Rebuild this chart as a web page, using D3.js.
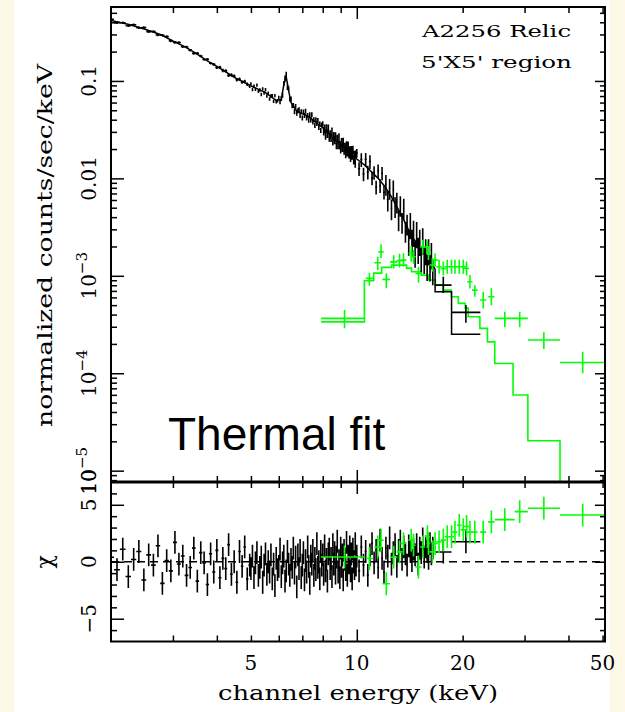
<!DOCTYPE html>
<html>
<head>
<meta charset="utf-8">
<script src="https://cdn.jsdelivr.net/npm/d3@7"></script>
<style>
  html, body { margin: 0; padding: 0; background: #fdf9e6; }
  svg { display: block; }
</style>
</head>
<body>
<svg id="chart" width="625" height="712"></svg>
<script>
// ── data ────────────────────────────────────────────────────────────────────

// axis limits
const xDomain    = [2, 50.8];          // keV
const yTopDomain = [7.65e-6, 0.574];   // counts/sec/keV
const chiDomain  = [-7, 7];

// black spectrum: channel centres (keV), upper-panel values, residuals
const blackE = [
  2.00, 2.08, 2.16, 2.24, 2.32, 2.40, 2.48, 2.56, 2.64, 2.72, 2.80, 2.88, 2.96, 3.04, 3.12, 3.20,
  3.28, 3.36, 3.44, 3.52, 3.60, 3.68, 3.76, 3.84, 3.92, 4.00, 4.08, 4.16, 4.24, 4.32, 4.40, 4.48,
  4.56, 4.64, 4.72, 4.80, 4.88, 4.96,
  5.00, 5.05, 5.10, 5.15, 5.20, 5.25, 5.30, 5.35, 5.40, 5.45, 5.50, 5.55, 5.60, 5.65, 5.70, 5.75,
  5.80, 5.85, 5.90, 5.95, 6.00, 6.05, 6.10, 6.15, 6.20, 6.25, 6.30, 6.35, 6.40, 6.45, 6.50, 6.55,
  6.60, 6.65, 6.70, 6.75, 6.80, 6.85, 6.90, 6.95, 7.00, 7.05, 7.10, 7.15, 7.20, 7.25, 7.30, 7.35,
  7.40, 7.45, 7.50, 7.55, 7.60, 7.65, 7.70, 7.75, 7.80, 7.85, 7.90, 7.95, 8.00, 8.05, 8.10, 8.15,
  8.20, 8.25, 8.30, 8.35, 8.40, 8.45, 8.50, 8.55, 8.60, 8.65, 8.70, 8.75, 8.80, 8.85, 8.90, 8.95,
  9.00, 9.05, 9.10, 9.15, 9.20, 9.25, 9.30, 9.35, 9.40, 9.45, 9.50, 9.55, 9.60, 9.65, 9.70, 9.75,
  9.80, 9.85, 9.90, 9.95,
  10.00, 10.15, 10.30, 10.45, 10.60, 10.75, 10.90, 11.05, 11.20, 11.35, 11.50, 11.65, 11.80, 11.95,
  12.10, 12.25, 12.40, 12.55, 12.70, 12.85, 13.00, 13.15, 13.30, 13.45, 13.60, 13.75, 13.90, 14.05,
  14.20, 14.35, 14.50, 14.65, 14.80, 14.95, 15.10, 15.25, 15.40, 15.55, 15.70, 15.85, 16.00, 16.15,
  16.30, 16.45
];
const blackY = [
  0.429, 0.397, 0.396, 0.369, 0.378, 0.352, 0.353, 0.321, 0.322, 0.297, 0.294, 0.285, 0.258, 0.249, 0.248, 0.224,
  0.223, 0.207, 0.192, 0.192, 0.180, 0.166, 0.167, 0.152, 0.148, 0.137, 0.138, 0.128, 0.127, 0.114, 0.115, 0.112,
  0.103, 0.104, 0.0973, 0.0989, 0.0925, 0.0883,
  0.0933, 0.0818, 0.0883, 0.0820, 0.0906, 0.0785, 0.0809, 0.0726, 0.0830, 0.0753,
  0.0813, 0.0700, 0.0750, 0.0653, 0.0700, 0.0708, 0.0617, 0.0708, 0.0610, 0.0627,
  0.0676, 0.0612, 0.0661, 0.0716, 0.0944, 0.107, 0.117, 0.0861, 0.0832, 0.0653,
  0.0653, 0.0558, 0.0561, 0.0485, 0.0547, 0.0468, 0.0495, 0.0507, 0.0442, 0.0484,
  0.0417, 0.0479, 0.0442, 0.0490, 0.0417, 0.0442, 0.0395, 0.0451, 0.0399, 0.0450,
  0.0380, 0.0400, 0.0350, 0.0399, 0.0366, 0.0394, 0.0333, 0.0362, 0.0310, 0.0353,
  0.0363, 0.0306, 0.0325, 0.0277, 0.0327, 0.0288, 0.0324, 0.0264, 0.0284, 0.0262,
  0.0302, 0.0241, 0.0272, 0.0249, 0.0271, 0.0221, 0.0255, 0.0221, 0.0264, 0.0220,
  0.0200, 0.0236, 0.0207, 0.0237, 0.0194, 0.0211, 0.0179, 0.0219, 0.0186, 0.0217,
  0.0178, 0.0194, 0.0164, 0.0195, 0.0173, 0.0197, 0.0154, 0.0175, 0.0143, 0.0177,
  0.0182, 0.0126, 0.0156, 0.0111, 0.0157, 0.0116, 0.0149, 0.0101, 0.0115, 0.00815,
  0.0120, 0.00843, 0.0113, 0.00721, 0.00871, 0.00603, 0.00794, 0.00489, 0.00769, 0.00516,
  0.00575, 0.00378, 0.00530, 0.00356, 0.00497, 0.00288, 0.00342, 0.00229, 0.00339, 0.00229,
  0.00282, 0.00173, 0.00274, 0.00189, 0.00228, 0.00155, 0.00236, 0.00149, 0.00183, 0.00126,
  0.00182, 0.00125, 0.00167, 0.00114
];
const blackChi = [
  0.4, -0.7, 1.1, -1.3, 0.2, 0.9, -1.6, 0.6, -0.3, 1.4, -1.9, 0.1, -0.8, 1.7, -0.2, 0.5,
  -1.2, -0.5, 1.2, -1.7, 0.8, -0.1, -2.0, 0.7, -0.9, 1.0, -1.4, 0.3, -0.6, 1.5, -1.1, 0.0,
  -1.8, 0.9, -0.4, 1.3, -1.5, -0.3,
  -0.6, 0.5, -1.4, -0.1, 0.8, -1.2, -0.5, 0.4, -1.8, -0.3,
  0.7, -1.1, 0.0, -0.9, 0.6, -1.5, -0.2, -2.1, 0.3, -0.7,
  -0.4, 1.1, -1.3, -0.1, 0.5, -1.7, -0.8, 0.9, -0.2, -1.2,
  0.2, -0.5, 1.2, -1.0, 0.4, -2.2, 0.6, -0.6, 1.0, -1.4,
  -0.3, 0.8, -1.6, 0.1, -0.9, 1.3, -0.4, -1.9, 0.5, -0.2,
  1.0, -1.2, 0.3, -0.7, 1.6, -0.5, 0.0, -1.5, 0.9, -0.3,
  0.6, -1.1, 1.4, -0.8, 0.2, -1.7, 0.7, 1.1, -0.6, 0.3,
  -1.3, 1.5, -0.2, 0.8, -1.0, 0.4, 1.8, -0.9, 0.1, -1.4,
  1.2, -0.4, 0.6, -1.6, 1.0, 0.2, -0.7, 1.7, -1.2, 0.5,
  -0.1, 1.3, -0.8, 0.7, -1.5, 1.1, 0.0, -0.6, 1.6, -0.3,
  0.5, -0.8, 1.3, -0.3, 0.9, -1.2, 0.6, 1.6, -0.1, 1.0,
  -0.5, 1.9, 0.3, -0.9, 1.2, 0.5, 2.1, -0.2, 0.8, 1.5,
  -0.4, 1.0, 1.8, 0.2, 1.3, 0.7, -0.3, 1.4, 0.9, 0.1,
  1.1, 0.6, 1.5, -0.2, 1.2, 0.8, 2.0, 0.4, 1.3, 0.9,
  0.3, 1.6, 0.7, 1.2
];
// fractional error of the black points, by energy band (upper edge of band)
const errBandTop  = [4, 6, 8, 10, 12, 14, 17];
const errBandFrac = [0.03, 0.04, 0.06, 0.1, 0.16, 0.24, 0.3];

// two wide black bins at the high-energy end
const blackWideLo  = [16.7, 18.6];
const blackWideHi  = [18.6, 22.46];
const blackWideE   = [17.62, 20.43];
const blackWideY   = [8.03e-4, 4.21e-4];
const blackWideYLo = [6.65e-4, 3.30e-4];
const blackWideYHi = [9.77e-4, 5.01e-4];
const blackWideChi = [0.85, 1.75];

// black model line (vertices)
const blackModelE = [
  2.0, 2.25, 2.5, 2.75, 3.0, 3.25, 3.5, 3.75, 4.0, 4.25, 4.5, 4.75, 5.0, 5.5, 5.9,
  6.1, 6.2, 6.3, 6.4, 6.5, 6.75, 7.25, 7.5, 8.0, 8.5, 9.0, 9.5, 10.0, 10.5, 11.0,
  11.5, 12.0, 12.5, 13.0, 13.5, 14.0, 14.5, 15.0, 15.5, 16.0, 16.5, 16.7,
  16.7, 18.6, 18.6, 22.46
];
const blackModelY = [
  0.417, 0.380, 0.339, 0.302, 0.257, 0.224, 0.191, 0.162, 0.141, 0.123, 0.108, 0.0977, 0.0891, 0.0759, 0.0631,
  0.0646, 0.0912, 0.110, 0.0794, 0.0603, 0.0490, 0.0437, 0.0398, 0.0331, 0.0269, 0.0224, 0.0191, 0.0158, 0.0138, 0.0117,
  0.0100, 0.00832, 0.00661, 0.00513, 0.00398, 0.00302, 0.00240, 0.00204, 0.00178, 0.00151, 0.00126, 0.00117,
  6.86e-4, 6.86e-4, 2.52e-4, 2.52e-4
];

// green spectrum
const greenE   = [9.23, 10.86, 11.47, 11.72, 12.13, 12.73, 13.23, 13.58, 14.28, 14.5, 14.98, 15.4, 15.88, 15.99, 16.4, 16.7,
                  17.14, 17.62, 18.08, 18.6, 19.02, 19.56, 20.08, 20.52, 20.98, 21.66, 22.88, 24.14, 26.36, 29.06, 34.04, 43.9];
const greenLo  = [7.91, 10.61, 11.22, 11.52, 11.83, 12.43, 12.98, 13.33, 14.03, 14.3, 14.68, 15.15, 15.63, 15.79, 16.1, 16.4,
                  16.84, 17.32, 17.78, 18.3, 18.72, 19.26, 19.73, 20.17, 20.63, 21.26, 22.43, 23.64, 24.68, 28.12, 30.66, 37.84];
const greenHi  = [10.51, 11.11, 11.72, 11.92, 12.43, 13.03, 13.48, 13.83, 14.53, 14.7, 15.28, 15.65, 16.13, 16.19, 16.7, 17.0,
                  17.44, 17.92, 18.38, 18.9, 19.32, 19.86, 20.43, 20.87, 21.33, 22.06, 23.33, 24.64, 28.12, 30.66, 37.84, 50.8];
const greenY   = [3.66e-4, 9.4e-4, 1.36e-3, 1.76e-3, 9.2e-4, 1.39e-3, 1.43e-3, 1.45e-3, 1.70e-3, 1.57e-3, 1.06e-3, 1.98e-3,
                  1.98e-3, 1.70e-3, 1.29e-3, 1.45e-3, 1.24e-3, 1.19e-3, 1.24e-3, 1.24e-3, 1.24e-3, 1.24e-3, 1.24e-3, 1.19e-3,
                  8.7e-4, 7.13e-4, 5.64e-4, 6.09e-4, 3.66e-4, 3.66e-4, 2.19e-4, 1.29e-4];
const greenYLo = [2.89e-4, 7.9e-4, 1.14e-3, 1.51e-3, 7.43e-4, 1.19e-3, 1.22e-3, 1.24e-3, 1.39e-3, 1.33e-3, 8.5e-4, 1.68e-3,
                  1.70e-3, 1.45e-3, 1.1e-3, 1.24e-3, 1.05e-3, 1.01e-3, 1.05e-3, 1.05e-3, 1.05e-3, 1.05e-3, 1.05e-3, 1.01e-3,
                  7.4e-4, 6.1e-4, 4.63e-4, 5.0e-4, 2.96e-4, 2.96e-4, 1.77e-4, 9.98e-5];
const greenYHi = [4.45e-4, 1.07e-3, 1.57e-3, 2.11e-3, 1.06e-3, 1.63e-3, 1.68e-3, 1.70e-3, 2.02e-3, 1.85e-3, 1.24e-3, 2.34e-3,
                  2.29e-3, 2.0e-3, 1.52e-3, 1.7e-3, 1.46e-3, 1.4e-3, 1.46e-3, 1.46e-3, 1.46e-3, 1.46e-3, 1.46e-3, 1.4e-3,
                  1.02e-3, 8.0e-4, 6.86e-4, 7.43e-4, 4.27e-4, 4.27e-4, 2.63e-4, 1.66e-4];
const greenChi = [0.42, 0.28, 1.3, 1.9, -1.93, 0.4, 0.87, 1.6, 1.9, 1.45, -0.46, 1.3, 2.2, 1.6, 0.87, 1.6,
                  1.75, 1.9, 2.2, 2.2, 2.6, 3.2, 2.8, 3.1, 2.6, 2.6, 2.6, 3.5, 3.7, 4.4, 4.7, 4.1];

// green model histogram (bin edges, keV) and bin values
const greenModelEdges = [7.91, 10.51, 11.17, 11.77, 12.56, 13.85, 14.31, 15.27, 15.99, 16.73, 17.62, 18.57,
                         19.44, 20.34, 20.74, 22.39, 23.53, 24.68, 27.82, 30.66, 37.84, 50.8];
const greenModelY = [3.37e-4, 8.89e-4, 1.066e-3, 1.219e-3, 1.288e-3, 1.2e-3, 1.099e-3, 1.016e-3, 9.04e-4, 8.03e-4,
                     7.13e-4, 6.09e-4, 5.21e-4, 4.66e-4, 3.80e-4, 2.89e-4, 2.10e-4, 1.26e-4, 5.97e-5, 2.03e-5, 3e-6];

// tick labels
const xTickLabels   = [5, 10, 20, 50];
const yTopLabelVals = [1e-5, 1e-4, 1e-3, 0.01, 0.1];
const yTopLabelBase = ['10', '10', '10', '0.01', '0.1'];
const yTopLabelExp  = ['\u22125', '\u22124', '\u22123', '', ''];
const chiLabelVals  = [-5, 0, 5, 10];
const chiLabelText  = ['\u22125', '0', '5', '10'];

// ── layout ─────────────────────────────────────────────────────────────────
const COLORS = { black: '#000000', green: '#00ff00', page: '#fdf9e6', panel: '#ffffff' };
const X0 = 111, X1 = 605;
const YT0 = 7, YT1 = 482, YB1 = 641.5;
const SERIF = "'DejaVu Serif', serif";

const svg = d3.select('#chart');

svg.append('rect').attr('x', 14).attr('y', 0).attr('width', 596).attr('height', 712)
  .attr('fill', COLORS.panel);

const x    = d3.scaleLog().domain(xDomain).range([X0, X1]);
const yTop = d3.scaleLog().domain(yTopDomain).range([YT1, YT0]);
const yChi = d3.scaleLinear().domain(chiDomain).range([YB1, YT1]);

const defs = svg.append('defs');
defs.append('clipPath').attr('id', 'clipTop').append('rect')
  .attr('x', X0).attr('y', YT0).attr('width', X1 - X0).attr('height', YT1 - YT0);
defs.append('clipPath').attr('id', 'clipBot').append('rect')
  .attr('x', X0).attr('y', YT1).attr('width', X1 - X0).attr('height', YB1 - YT1);

const gTop = svg.append('g').attr('clip-path', 'url(#clipTop)');
const gBot = svg.append('g').attr('clip-path', 'url(#clipBot)');

// ── helpers ─────────────────────────────────────────────────────────────────
const errFrac = e => {
  const i = d3.bisectLeft(errBandTop, e);
  return errBandFrac[Math.min(i, errBandFrac.length - 1)];
};
const blackLo = blackE.map((e, i) => i === 0 ? e - (blackE[1] - e) / 2 : (e + blackE[i - 1]) / 2);
const blackHi = blackE.map((e, i) => i === blackE.length - 1 ? e + (e - blackE[i - 1]) / 2 : (e + blackE[i + 1]) / 2);

function crossPath(lo, hi, xc, yc, y1, y2) {
  return `M${lo},${yc}H${hi}M${xc},${y1}V${y2}`;
}

// ── upper panel ─────────────────────────────────────────────────────────────
// green model (histogram)
const greenSteps = greenModelY.map((v, i) => [greenModelEdges[i], v]);
greenSteps.push([greenModelEdges[greenModelEdges.length - 1], greenModelY[greenModelY.length - 1]]);
gTop.append('path')
  .attr('d', d3.line().curve(d3.curveStepAfter).x(d => x(d[0])).y(d => yTop(d[1]))(greenSteps))
  .attr('fill', 'none').attr('stroke', COLORS.green).attr('stroke-width', 1.6);

// black model
gTop.append('path')
  .attr('d', d3.line().x((d, i) => x(blackModelE[i])).y(d => yTop(d))(blackModelY))
  .attr('fill', 'none').attr('stroke', COLORS.black).attr('stroke-width', 1.5);

// black data
gTop.append('path')
  .attr('d', blackE.map((e, i) => {
    const v = blackY[i], f = errFrac(e);
    return crossPath(x(blackLo[i]), x(blackHi[i]), x(e), yTop(v), yTop(v * (1 + f)), yTop(v * (1 - f)));
  }).join('') + blackWideE.map((e, i) =>
    crossPath(x(blackWideLo[i]), x(blackWideHi[i]), x(e), yTop(blackWideY[i]), yTop(blackWideYHi[i]), yTop(blackWideYLo[i]))
  ).join(''))
  .attr('fill', 'none').attr('stroke', COLORS.black).attr('stroke-width', 1.6);

// green data
gTop.append('path')
  .attr('d', greenE.map((e, i) =>
    crossPath(x(greenLo[i]), x(greenHi[i]), x(e), yTop(greenY[i]), yTop(greenYHi[i]), yTop(greenYLo[i]))
  ).join(''))
  .attr('fill', 'none').attr('stroke', COLORS.green).attr('stroke-width', 1.6);

// ── lower panel (residuals, error bars of ±1) ───────────────────────────────
gBot.append('line')
  .attr('x1', X0).attr('x2', X1).attr('y1', yChi(0)).attr('y2', yChi(0))
  .attr('stroke', COLORS.black).attr('stroke-width', 1.4).attr('stroke-dasharray', '8,5');

gBot.append('path')
  .attr('d', blackE.map((e, i) => {
    const c = blackChi[i];
    return crossPath(x(blackLo[i]), x(blackHi[i]), x(e), yChi(c), yChi(c + 1), yChi(c - 1));
  }).join('') + blackWideE.map((e, i) => {
    const c = blackWideChi[i];
    return crossPath(x(blackWideLo[i]), x(blackWideHi[i]), x(e), yChi(c), yChi(c + 1), yChi(c - 1));
  }).join(''))
  .attr('fill', 'none').attr('stroke', COLORS.black).attr('stroke-width', 1.6);

gBot.append('path')
  .attr('d', greenE.map((e, i) => {
    const c = greenChi[i];
    return crossPath(x(greenLo[i]), x(greenHi[i]), x(e), yChi(c), yChi(c + 1), yChi(c - 1));
  }).join(''))
  .attr('fill', 'none').attr('stroke', COLORS.green).attr('stroke-width', 1.6);

// ── ticks (all pointing inwards) ────────────────────────────────────────────
const MAJ = 11, MIN = 6;
const xTicks    = x.ticks().filter(v => v > xDomain[0] && v < xDomain[1] + 1);
const xMajor    = xTicks.filter(v => Number.isInteger(Math.log10(v)));
const xMinor    = xTicks.filter(v => !Number.isInteger(Math.log10(v)));
const yTopTicks = yTop.ticks();
const yTopMajor = yTopTicks.filter(v => Math.abs(Math.log10(v) - Math.round(Math.log10(v))) < 1e-9);
const yTopMinor = yTopTicks.filter(v => !yTopMajor.includes(v));
const chiTicks  = yChi.ticks(14).filter(v => v > chiDomain[0] && v < chiDomain[1]);
const chiMajor  = chiTicks.filter(v => v % 5 === 0);
const chiMinor  = chiTicks.filter(v => v % 5 !== 0);

function tickAxis(axisFn, scale, values, size, transform) {
  svg.append('g').attr('transform', transform)
    .call(axisFn(scale).tickValues(values).tickSize(size).tickFormat(''))
    .call(ax => ax.select('.domain').remove())
    .call(ax => ax.selectAll('line').attr('stroke', COLORS.black).attr('stroke-width', 1.5));
}

// horizontal axes: top of upper, separator (both sides), bottom of lower
[[d3.axisBottom, YT0], [d3.axisTop, YT1], [d3.axisBottom, YT1], [d3.axisTop, YB1]].forEach(([fn, yy]) => {
  tickAxis(fn, x, xMinor, MIN, `translate(0,${yy})`);
  tickAxis(fn, x, xMajor, MAJ + 1, `translate(0,${yy})`);
});
// vertical axes, upper panel
tickAxis(d3.axisRight, yTop, yTopMinor, MIN, `translate(${X0},0)`);
tickAxis(d3.axisRight, yTop, yTopMajor, MAJ + 2, `translate(${X0},0)`);
tickAxis(d3.axisLeft, yTop, yTopMinor, MIN - 1, `translate(${X1},0)`);
tickAxis(d3.axisLeft, yTop, yTopMajor, MAJ - 1, `translate(${X1},0)`);
// vertical axes, lower panel
tickAxis(d3.axisRight, yChi, chiMinor, MIN, `translate(${X0},0)`);
tickAxis(d3.axisRight, yChi, chiMajor, MAJ + 2, `translate(${X0},0)`);
tickAxis(d3.axisLeft, yChi, chiMinor, MIN - 1, `translate(${X1},0)`);
tickAxis(d3.axisLeft, yChi, chiMajor, MAJ - 1, `translate(${X1},0)`);

// frames
svg.append('rect').attr('x', X0).attr('y', YT0).attr('width', X1 - X0).attr('height', YT1 - YT0)
  .attr('fill', 'none').attr('stroke', COLORS.black).attr('stroke-width', 2);
svg.append('rect').attr('x', X0).attr('y', YT1).attr('width', X1 - X0).attr('height', YB1 - YT1)
  .attr('fill', 'none').attr('stroke', COLORS.black).attr('stroke-width', 2);
svg.append('line').attr('x1', X0).attr('x2', X1).attr('y1', YT1).attr('y2', YT1)
  .attr('stroke', COLORS.black).attr('stroke-width', 3);

// ── labels ──────────────────────────────────────────────────────────────────
svg.append('g').selectAll('text').data(xTickLabels).join('text')
  .attr('x', d => x(d)).attr('y', 670)
  .attr('text-anchor', 'middle').attr('font-family', SERIF).attr('font-size', 20)
  .attr('fill', COLORS.black).text(d => d);

svg.append('text')
  .attr('x', 358).attr('y', 700).attr('text-anchor', 'middle')
  .attr('font-family', SERIF).attr('font-size', 20).attr('fill', COLORS.black)
  .attr('textLength', 280).attr('lengthAdjust', 'spacingAndGlyphs')
  .text('channel energy (keV)');

yTopLabelVals.forEach((v, i) => {
  const t = svg.append('text')
    .attr('transform', `translate(96,${yTop(v)}) rotate(-90)`)
    .attr('text-anchor', 'middle').attr('font-family', SERIF).attr('font-size', 20)
    .attr('fill', COLORS.black);
  t.append('tspan').text(yTopLabelBase[i]);
  if (yTopLabelExp[i]) t.append('tspan').attr('dy', -9).attr('font-size', 15).text(yTopLabelExp[i]);
});

const yChiClamped = yChi.copy().clamp(true);
chiLabelVals.forEach((v, i) => {
  svg.append('text')
    .attr('transform', `translate(96,${yChiClamped(v)}) rotate(-90)`)
    .attr('text-anchor', 'middle')
    .attr('font-family', SERIF).attr('font-size', 20).attr('fill', COLORS.black)
    .text(chiLabelText[i]);
});

svg.append('text')
  .attr('transform', `translate(52,${(64 + 427) / 2}) rotate(-90)`)
  .attr('text-anchor', 'middle').attr('font-family', SERIF).attr('font-size', 20)
  .attr('fill', COLORS.black)
  .attr('textLength', 363).attr('lengthAdjust', 'spacingAndGlyphs')
  .text('normalized counts/sec/keV');

svg.append('text')
  .attr('transform', `translate(52,${yChi(0)}) rotate(-90)`)
  .attr('text-anchor', 'middle').attr('font-family', SERIF).attr('font-size', 22)
  .attr('fill', COLORS.black).text('\u03c7');

svg.append('text')
  .attr('x', 571).attr('y', 37).attr('text-anchor', 'end')
  .attr('font-family', SERIF).attr('font-size', 17).attr('fill', COLORS.black)
  .attr('textLength', 149).attr('lengthAdjust', 'spacingAndGlyphs')
  .text('A2256 Relic');
svg.append('text')
  .attr('x', 572).attr('y', 68).attr('text-anchor', 'end')
  .attr('font-family', SERIF).attr('font-size', 17).attr('fill', COLORS.black)
  .attr('textLength', 151).attr('lengthAdjust', 'spacingAndGlyphs')
  .text("5'X5' region");

svg.append('text')
  .attr('x', 168).attr('y', 450)
  .attr('font-family', "'Liberation Sans', Arial, sans-serif").attr('font-size', 46)
  .attr('fill', COLORS.black).text('Thermal fit');
</script>
</body>
</html>
